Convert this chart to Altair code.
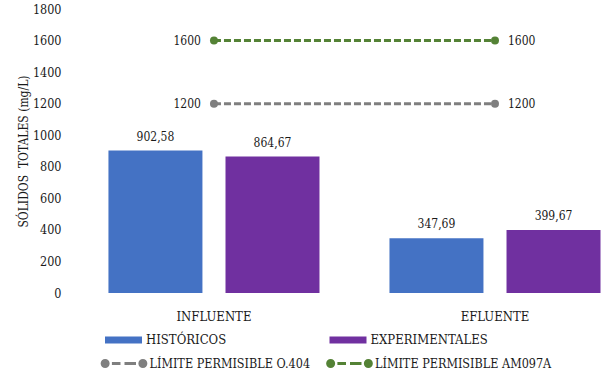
import altair as alt
import pandas as pd

# Sampling points and series
sitios = ["INFLUENTE", "EFLUENTE"]
series_barras = ["HISTÓRICOS", "EXPERIMENTALES"]
historicos = [902.58, 347.69]
experimentales = [864.67, 399.67]

series_limites = ["LÍMITE PERMISIBLE O.404", "LÍMITE PERMISIBLE AM097A"]
limite_o404 = [1200, 1200]
limite_am097a = [1600, 1600]

y_ticks = [0, 200, 400, 600, 800, 1000, 1200, 1400, 1600, 1800]

colores_barras = ["#4472C4", "#7030A0"]
colores_limites = ["#7F7F7F", "#548235"]

FUENTE = "DejaVu Serif Condensed"
TEXTO = "#1a1a1a"
T_NUM = 12      # numbers
T_TXT = 13      # words

# Tables built from the arrays above
filas_barras = []
for serie, valores in zip(series_barras, [historicos, experimentales]):
    for sitio, v in zip(sitios, valores):
        filas_barras.append({"sitio": sitio, "serie": serie, "valor": v,
                             "etiqueta": f"{v:.2f}".replace(".", ",")})
df_barras = pd.DataFrame(filas_barras)

filas_limites = []
for serie, valores in zip(series_limites, [limite_o404, limite_am097a]):
    for sitio, v in zip(sitios, valores):
        filas_limites.append({"sitio": sitio, "serie": serie, "valor": v,
                              "etiqueta": str(v)})
df_limites = pd.DataFrame(filas_limites)

x_enc = alt.X(
    "sitio:N", sort=sitios, title=None,
    scale=alt.Scale(paddingInner=0.249, paddingOuter=0.0675, align=0.908),
    axis=alt.Axis(labelAngle=0, ticks=False, domain=False, labelPadding=17,
                  labelFontSize=T_TXT, labelColor=TEXTO, labelFont=FUENTE),
)
y_enc = alt.Y(
    "valor:Q", title="SÓLIDOS\u00a0 TOTALES (mg/L)",
    scale=alt.Scale(domain=[0, 1800], nice=False),
    axis=alt.Axis(values=y_ticks, format="d", grid=False, ticks=False,
                  domain=False, labelPadding=13, labelFontSize=12.5,
                  labelColor=TEXTO, labelFont=FUENTE, titleFont=FUENTE,
                  titleFontSize=12, titleFontWeight="normal",
                  titleColor=TEXTO, titlePadding=2),
)
offset_enc = alt.XOffset(
    "serie:N", sort=series_barras,
    scale=alt.Scale(paddingInner=0.197, paddingOuter=0),
)

# Legend symbols: a wide flat bar, and a dashed segment with a dot at each end
SIMBOLO_BARRA = "M-0.925,-0.17H0.925V0.17H-0.925Z"


def _punto(cx, r):
    return (f"M{cx - r:.4f},0A{r:.4f},{r:.4f} 0 1,0 {cx + r:.4f},0"
            f"A{r:.4f},{r:.4f} 0 1,0 {cx - r:.4f},0")


SIMBOLO_LINEA = (
    _punto(-0.838, 0.1333) + _punto(-0.838, 0.0533)
    + _punto(0.838, 0.1333) + _punto(0.838, 0.0533)
    + "M-0.538,0H-0.156M0.022,0H0.533"
)

barras = alt.Chart(df_barras).mark_bar().encode(
    x=x_enc, xOffset=offset_enc, y=y_enc,
    color=alt.Color(
        "serie:N",
        scale=alt.Scale(domain=series_barras, range=colores_barras),
        legend=alt.Legend(
            title=None, orient="none", legendX=29.5, legendY=311,
            direction="horizontal", columns=2, columnPadding=101.5,
            symbolType=SIMBOLO_BARRA, symbolSize=1600, symbolStrokeWidth=0,
            labelFontSize=T_TXT, labelFont=FUENTE, labelColor=TEXTO,
            labelOffset=2.5, labelLimit=300, padding=0,
        ),
    ),
)

etiquetas_barras = alt.Chart(df_barras).mark_text(
    baseline="middle", dy=-14, fontSize=T_NUM, color=TEXTO, font=FUENTE
).encode(x=x_enc, xOffset=offset_enc, y=y_enc, text="etiqueta:N")

lineas = alt.Chart(df_limites).mark_line(strokeWidth=3).encode(
    x=x_enc, y=y_enc,
    strokeDash=alt.value([7, 3]),
    stroke=alt.Stroke(
        "serie:N",
        scale=alt.Scale(domain=series_limites, range=colores_limites),
        legend=alt.Legend(
            title=None, orient="none", legendX=26, legendY=330.5,
            direction="horizontal", columns=2, columnPadding=10.5,
            symbolType=SIMBOLO_LINEA, symbolSize=2025, symbolStrokeWidth=3,
            labelFontSize=12.5, labelFont=FUENTE, labelColor=TEXTO,
            labelOffset=1.5, labelLimit=300, padding=0,
        ),
    ),
)

puntos = alt.Chart(df_limites).mark_circle(size=64, opacity=1).encode(
    x=x_enc, y=y_enc,
    fill=alt.Fill(
        "serie:N",
        scale=alt.Scale(domain=series_limites, range=colores_limites),
        legend=None,
    ),
)

etiquetas_izq = alt.Chart(df_limites).transform_filter(
    alt.datum.sitio == sitios[0]
).mark_text(align="right", baseline="middle", dx=-13, fontSize=T_NUM,
            color=TEXTO, font=FUENTE).encode(x=x_enc, y=y_enc,
                                            text="etiqueta:N")

etiquetas_der = alt.Chart(df_limites).transform_filter(
    alt.datum.sitio == sitios[1]
).mark_text(align="left", baseline="middle", dx=13, fontSize=T_NUM,
            color=TEXTO, font=FUENTE).encode(x=x_enc, y=y_enc,
                                            text="etiqueta:N")

chart = alt.layer(
    barras, etiquetas_barras, lineas, puntos, etiquetas_izq, etiquetas_der
).properties(
    width=530, height=284,
    autosize=alt.AutoSizeParams(type="none"),
    padding={"left": 74, "top": 9, "right": 0, "bottom": 85},
    background="white",
).configure(
    font=FUENTE,
).configure_view(
    stroke=None,
)

chart.save("out.html", embed_options={"renderer": "svg", "actions": False})
